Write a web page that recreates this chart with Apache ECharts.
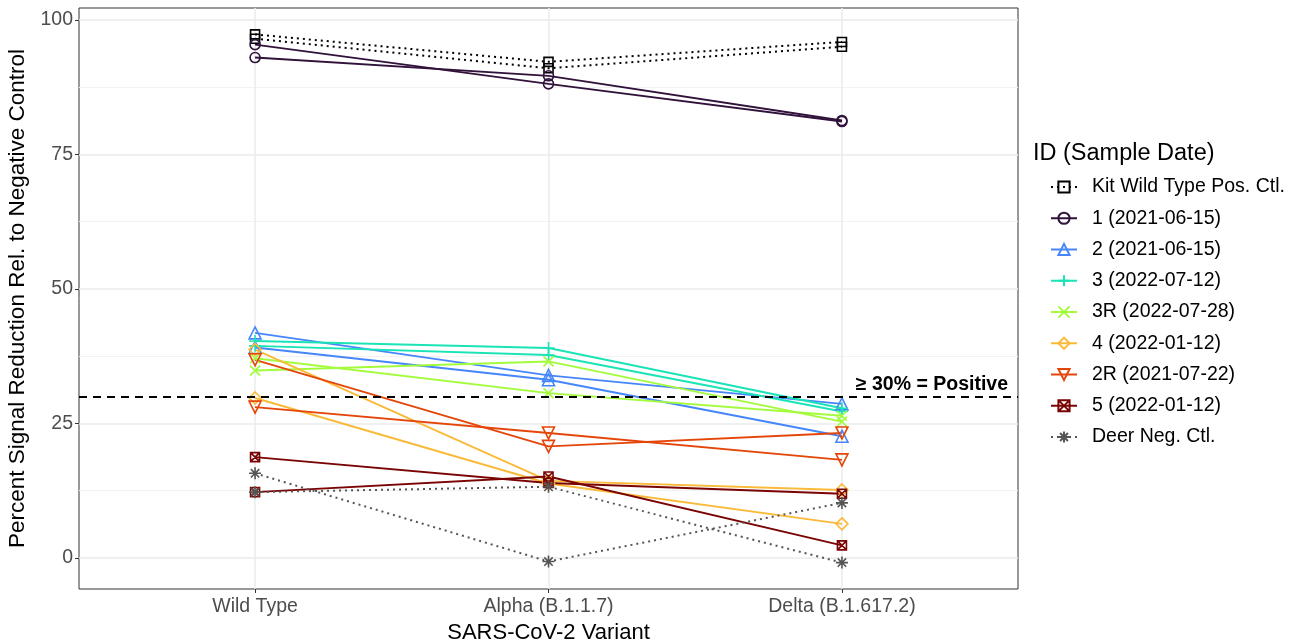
<!DOCTYPE html>
<html>
<head>
<meta charset="utf-8">
<script src="https://cdn.jsdelivr.net/npm/echarts@6/dist/echarts.min.js"></script>
<style>
html,body{margin:0;padding:0;background:#fff;}
#chart{width:1293px;height:642px;}
</style>
</head>
<body>
<div id="chart"></div>
<script>
// ---- data ----
const categories = ['Wild Type', 'Alpha (B.1.1.7)', 'Delta (B.1.617.2)'];
const legendNames = ['Kit Wild Type Pos. Ctl.', '1 (2021-06-15)', '2 (2021-06-15)', '3 (2022-07-12)',
  '3R (2022-07-28)', '4 (2022-01-12)', '2R (2021-07-22)', '5 (2022-01-12)', 'Deer Neg. Ctl.'];
const yTicks = [0, 25, 50, 75, 100];
const yMinorTicks = [12.5, 37.5, 62.5, 87.5];
const thresholdValue = 30;

const kitRep1 = [97.3, 92.2, 95.9];
const kitRep2 = [96.5, 91.0, 95.0];
const id1Rep1 = [95.4, 88.1, 81.1];
const id1Rep2 = [93.0, 89.6, 81.3];
const id2Rep1 = [41.8, 33.9, 28.6];
const id2Rep2 = [39.1, 33.1, 22.6];
const id3Rep1 = [40.3, 39.0, 27.8];
const id3Rep2 = [39.4, 37.7, 27.2];
const id3RRep1 = [37.1, 30.6, 26.4];
const id3RRep2 = [34.8, 36.5, 25.3];
const id4Rep1 = [38.7, 14.3, 12.6];
const id4Rep2 = [29.7, 13.8, 6.3];
const id2RRep1 = [36.8, 20.7, 23.2];
const id2RRep2 = [28.0, 23.2, 18.2];
const id5Rep1 = [18.7, 13.9, 11.9];
const id5Rep2 = [12.2, 15.1, 2.3];
const deerRep1 = [15.7, -0.7, 10.2];
const deerRep2 = [12.2, 13.2, -0.9];

// ---- styles ----
const FONT = 'Liberation Sans, Arial, Helvetica, sans-serif';
const SYM = {
  square: 'path://M0,0L10,0L10,10L0,10Z',
  circle: 'path://M10,5A5,5,0,1,1,0,5A5,5,0,1,1,10,5Z',
  triangle: 'path://M5,0L10,8.66L0,8.66Z',
  plus: 'path://M5,0L5,10M0,5L10,5',
  cross: 'path://M0,0L10,10M10,0L0,10',
  diamond: 'path://M5,0L10,5L5,10L0,5Z',
  down: 'path://M0,0L10,0L5,8.66Z',
  sqcross: 'path://M0,0L10,0L10,10L0,10ZM0,0L10,10M10,0L0,10',
  star: 'path://M5,0L5,10M0,5L10,5M1.5,1.5L8.5,8.5M8.5,1.5L1.5,8.5'
};
const groups = [
  {name: legendNames[0], reps: [kitRep1, kitRep2], color: '#000000', sym: SYM.square, dotted: true, size: 9},
  {name: legendNames[1], reps: [id1Rep1, id1Rep2], color: '#30123B', sym: SYM.circle, size: 10},
  {name: legendNames[2], reps: [id2Rep1, id2Rep2], color: '#4686FB', sym: SYM.triangle, size: 12},
  {name: legendNames[3], reps: [id3Rep1, id3Rep2], color: '#1AE4B6', sym: SYM.plus, size: 12},
  {name: legendNames[4], reps: [id3RRep1, id3RRep2], color: '#A2FC3C', sym: SYM.cross, size: 10},
  {name: legendNames[5], reps: [id4Rep1, id4Rep2], color: '#FABA39', sym: SYM.diamond, size: 12},
  {name: legendNames[6], reps: [id2RRep1, id2RRep2], color: '#E4460A', sym: SYM.down, size: 12},
  {name: legendNames[7], reps: [id5Rep1, id5Rep2], color: '#7A0403', sym: SYM.sqcross, size: 9},
  {name: legendNames[8], reps: [deerRep1, deerRep2], color: '#555555', sym: SYM.star, dotted: true, size: 12}
];

const series = [];
groups.forEach(g => {
  g.reps.forEach(rep => {
    series.push({
      type: 'line',
      name: g.name,
      data: rep.map((v, i) => [i + 1, v]),
      symbol: g.sym,
      symbolSize: g.size,
      showAllSymbol: true,
      color: g.color,
      lineStyle: {color: g.color, width: g.dotted ? 2 : 1.9, type: g.dotted ? [2, 4] : 'solid'},
      itemStyle: {color: 'rgba(255,255,255,0)', borderColor: g.color, borderWidth: 1.6},
      emphasis: {disabled: true},
      animation: false
    });
  });
});
series.push({
  type: 'line', name: '__threshold', data: [], silent: true, animation: false,
  markLine: {
    silent: true, symbol: 'none', animation: false,
    data: [{yAxis: thresholdValue}],
    lineStyle: {color: '#000', width: 2, type: [8, 6]},
    label: {formatter: '≥ 30% = Positive', position: 'insideEndTop', fontFamily: FONT,
      fontWeight: 'bold', fontSize: 19.5, color: '#000', distance: [10, 2]}
  }
});

const chart = echarts.init(document.getElementById('chart'), null, {renderer: 'canvas'});
chart.setOption({
  backgroundColor: '#ffffff',
  animation: false,
  title: {
    text: 'ID (Sample Date)', left: 1033, top: 142, padding: 0,
    textStyle: {fontFamily: FONT, fontSize: 23.5, fontWeight: 'normal', color: '#000'}
  },
  legend: {
    data: legendNames, orient: 'vertical', left: 1050, top: 177, padding: 0,
    itemWidth: 26, itemHeight: 14, itemGap: 11.25,
    textStyle: {fontFamily: FONT, fontSize: 19.5, lineHeight: 20, color: '#000', padding: [0, 0, 0, 10]},
    selectedMode: false
  },
  grid: {left: 79, right: 275, top: 8, bottom: 53, show: true, borderColor: '#333333', borderWidth: 1,
    backgroundColor: '#fff', containLabel: false, outerBoundsMode: 'none'},
  xAxis: {
    type: 'value', min: 0.4, max: 3.6,
    name: 'SARS-CoV-2 Variant', nameLocation: 'middle', nameGap: 30,
    nameTextStyle: {fontFamily: FONT, fontSize: 22, color: '#000'},
    axisLine: {show: false, onZero: false},
    axisTick: {show: true, customValues: [1, 2, 3], length: 4, lineStyle: {color: '#333'}},
    axisLabel: {customValues: [1, 2, 3], formatter: v => categories[Math.round(v) - 1] || '',
      fontFamily: FONT, fontSize: 19.5, color: '#4D4D4D', margin: 8},
    splitLine: {show: true, lineStyle: {color: '#EBEBEB', width: 1.5}}
  },
  yAxis: [{
    type: 'value', min: -5.81, max: 102.21,
    name: 'Percent Signal Reduction Rel. to Negative Control', nameLocation: 'middle', nameGap: 48,
    nameTextStyle: {fontFamily: FONT, fontSize: 22.5, color: '#000'},
    axisLine: {show: false, onZero: false},
    axisTick: {show: true, customValues: yTicks, length: 4, lineStyle: {color: '#333'}},
    axisLabel: {customValues: yTicks, fontFamily: FONT, fontSize: 19.5, color: '#4D4D4D', margin: 6},
    splitLine: {show: true, lineStyle: {color: '#EBEBEB', width: 1.5}}
  }, {
    type: 'value', min: -5.81, max: 102.21, position: 'left',
    axisLine: {show: false, onZero: false},
    axisTick: {show: false, customValues: yMinorTicks},
    axisLabel: {show: false, customValues: yMinorTicks},
    splitLine: {show: true, lineStyle: {color: '#F2F2F2', width: 1}}
  }],
  series: series
});
</script>
</body>
</html>
